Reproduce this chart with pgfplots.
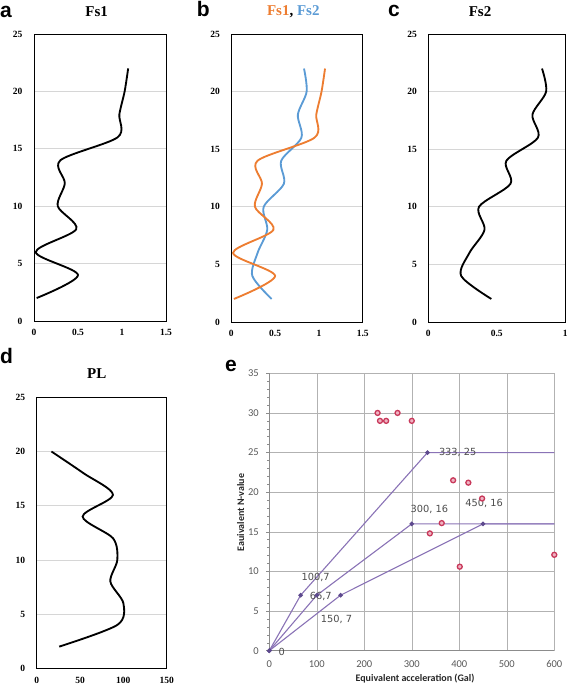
\documentclass[border=0pt]{standalone}
\usepackage{pgfplots}
\pgfplotsset{compat=1.18}
\usepackage{pgfplotstable}
\usepackage{fontspec}
\setmainfont{Liberation Serif}
\newfontfamily\arialf{Liberation Sans}
\newfontfamily\carl{Carlito}
\newfontfamily\dejav{DejaVu Sans}
\definecolor{fsorange}{HTML}{ED7D31}
\definecolor{fsblue}{HTML}{5B9BD5}
\definecolor{pline}{HTML}{8A73B6}
\definecolor{pmark}{HTML}{5E4A8E}
\definecolor{redm}{HTML}{C8385A}
\definecolor{pinkm}{HTML}{EFB3C2}
\definecolor{tickgray}{HTML}{595959}

\pgfplotstableread{
x y
0.03 2
0.50 4
0.02 6
0.48 8
0.27 10
0.35 12
0.30 14
0.95 16
0.97 18
1.03 20
1.07 22
}\fsone
\pgfplotstableread{
x y
0.46 2
0.24 4
0.30 6
0.41 8
0.37 10
0.60 12
0.57 14
0.80 16
0.76 18
0.86 20
0.83 22
}\fstwo
\pgfplotstableread{
x y
26 2
93 4
100 6
85 8
93 10
88 12
53 14
88 16
54 18
17 20
}\pl

\pgfplotsset{prof/.style={scale only axis, anchor=south west, ymin=0, ymax=25,
  ytick={0,5,...,25}, ymajorgrids, grid style={color=black!16, line width=0.7pt},
  tick style={draw=none}, axis line style={line width=0.7pt},
  tick label style={font=\fontsize{9.5}{10}\selectfont\bfseries},
  /pgf/number format/assume math mode=true,
  yticklabel style={xshift=-8pt}, xticklabel style={yshift=-5pt}},
  curve/.style={smooth, line width=1.85pt, no marks}}

\begin{document}
\begin{tikzpicture}[x=1pt,y=1pt]
\useasboundingbox (0,0) rectangle (567,687);

% panel a
\begin{axis}[prof, at={(34pt,366pt)}, width=132pt, height=287pt, xmin=0, xmax=1.5, xtick={0,0.5,1,1.5}]
\addplot[curve, black] table[x=x,y=y] {\fsone};
\end{axis}
% panel b
\begin{axis}[prof, at={(231.3pt,365pt)}, width=131.4pt, height=288pt, xmin=0, xmax=1.5, xtick={0,0.5,1,1.5}]
\addplot[curve, fsblue] table[x=x,y=y] {\fstwo};
\addplot[curve, fsorange] table[x=x,y=y] {\fsone};
\end{axis}
% panel c
\begin{axis}[prof, at={(428.3pt,365pt)}, width=137pt, height=288pt, xmin=0, xmax=1, xtick={0,0.5,1}]
\addplot[curve, black] table[x=x,y=y] {\fstwo};
\end{axis}
% panel d
\begin{axis}[prof, at={(36.7pt,18.7pt)}, width=130pt, height=271pt, xmin=0, xmax=150, xtick={0,50,100,150}]
\addplot[curve, black] table[x=x,y=y] {\pl};
\end{axis}

% panel e
\begin{axis}[scale only axis, anchor=south west, at={(269.3pt,36.3pt)}, width=285pt, height=277.4pt,
  xmin=0, xmax=600, ymin=0, ymax=35, xtick={0,100,...,600}, ytick={0,5,...,35},
  minor y tick num=4, grid=major, grid style={color=black!30, line width=0.6pt},
  axis lines=left, axis line style={color=black!45, line width=0.6pt, -},
  tick align=outside, major tick length=3pt, minor tick length=2pt,
  ytick style={color=black!45, line width=0.5pt}, xtick style={draw=none},
  tick label style={font=\carl\fontsize{10.5}{11}\selectfont, color=tickgray},
  /pgf/number format/assume math mode=true,
  yticklabel style={xshift=-4pt}, xticklabel style={yshift=-3pt},
  clip=false]
\addplot[pline, line width=1.1pt, mark=*, mark size=1.7pt, mark indices={1,2,3},
  mark options={fill=pmark, draw=pmark}] coordinates {(0,0) (66,7) (333,25) (600,25)};
\addplot[pline, line width=1.1pt, mark=*, mark size=1.7pt, mark indices={1,2,3},
  mark options={fill=pmark, draw=pmark}] coordinates {(0,0) (100,7) (300,16) (600,16)};
\addplot[pline, line width=1.1pt, mark=*, mark size=1.7pt, mark indices={1,2,3},
  mark options={fill=pmark, draw=pmark}] coordinates {(0,0) (150,7) (450,16) (600,16)};
\addplot[only marks, mark=*, mark size=2.5pt, mark options={fill=pinkm, draw=redm, line width=1.3pt}]
  coordinates {(228,30) (233,29) (246,29) (270,30) (300,29) (387,21.5) (419,21.2) (448,19.2)
  (363,16.1) (338,14.8) (401,10.6) (600,12.1)};
\begin{scope}[every node/.style={font=\dejav\fontsize{9.8}{10}\selectfont, text=black!70}]
\node[anchor=west] at (axis cs:333,25) [xshift=8pt] {333, 25};
\node at (axis cs:300,16) [xshift=17.5pt, yshift=14pt] {300, 16};
\node at (axis cs:450,16) [xshift=1pt, yshift=20pt] {450, 16};
\node at (axis cs:66,7) [xshift=15pt, yshift=18pt] {100,7};
\node at (axis cs:100,7) [xshift=4pt, yshift=-1pt] {66,7};
\node at (axis cs:150,7) [xshift=-4pt, yshift=-24pt] {150, 7};
\node at (axis cs:0,0) [xshift=12.4pt, yshift=-1pt] {0};
\end{scope}
\end{axis}

% axis titles of e
\node[font=\carl\bfseries\fontsize{10}{11}\selectfont, text=black!85] at (415,8.7) {Equivalent acceleration (Gal)};
\node[font=\carl\bfseries\fontsize{10}{11}\selectfont, text=black!85, rotate=90] at (240.7,174.5) {Eauivalent N-value};

% panel letters
\begin{scope}[every node/.style={font=\arialf\bfseries\fontsize{21}{22}\selectfont, inner sep=0pt, anchor=base west}]
\node at (0,669) {a};
\node at (196.7,670) {b};
\node at (388,670) {c};
\node at (0,323.7) {d};
\node at (225,315.3) {e};
\end{scope}
% titles
\begin{scope}[every node/.style={font=\bfseries\fontsize{15}{16}\selectfont, inner sep=0pt, anchor=base}]
\node at (96.7,670) {Fs1};
\node at (293.3,671) {\textcolor{fsorange}{Fs1}, \textcolor{fsblue}{Fs2}};
\node at (480,670) {Fs2};
\node at (96.7,308.7) {PL};
\end{scope}
\end{tikzpicture}
\end{document}
